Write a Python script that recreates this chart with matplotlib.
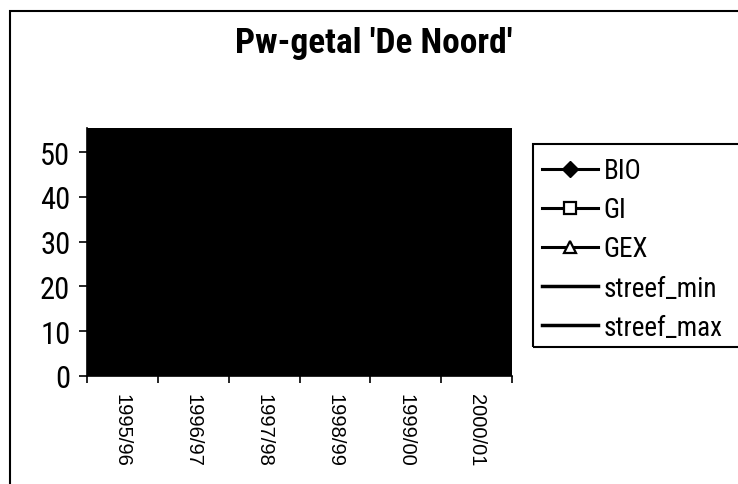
import matplotlib
matplotlib.use("Agg")
import matplotlib.pyplot as plt
from matplotlib.patches import Rectangle
from matplotlib.lines import Line2D

narrow = ['Liberation Sans Narrow', 'DejaVu Sans Condensed', 'Roboto Condensed',
          'Open Sans Condensed', 'Liberation Sans', 'DejaVu Sans']
plt.rcParams['font.family'] = narrow

seasons = ["1995/96", "1996/97", "1997/98", "1998/99", "1999/00", "2000/01"]
bio = [38, 41, 36, 44, 40, 42]
gi = [30, 33, 29, 35, 31, 34]
gex = [22, 25, 21, 27, 24, 26]
streef_min = [20, 20, 20, 20, 20, 20]
streef_max = [50, 50, 50, 50, 50, 50]
y_ticks = [0, 10, 20, 30, 40, 50]

W, H = 738, 485
fig = plt.figure(figsize=(W / 100, H / 100), dpi=100)

def fx(px):
    return px / W

def fy(py):
    return 1 - py / H

ax = fig.add_axes([fx(87), fy(377), fx(512) - fx(87), fy(129) - fy(377)])
ax.set_facecolor("black")

# series are lost in the black plot area, as in the scanned original
x = list(range(len(seasons)))
ax.plot(x, bio, color="black", lw=2, marker="D", ms=6)
ax.plot(x, gi, color="black", lw=2, marker="s", ms=6)
ax.plot(x, gex, color="black", lw=2, marker="^", ms=6)
ax.plot(x, streef_min, color="black", lw=2.5)
ax.plot(x, streef_max, color="black", lw=2.5)

ax.set_xlim(-0.5, len(seasons) - 0.5)
ax.set_ylim(0, 55.4)

# category axis: ticks between categories, labels centred
ax.set_xticks([i - 0.5 for i in range(len(seasons) + 1)])
ax.set_xticklabels([])
ax.set_xticks(x, minor=True)
ax.set_xticklabels(seasons, minor=True, rotation=-90, fontsize=14.5,
                   family=['Liberation Sans', 'DejaVu Sans'], va="top", ha="center")
ax.tick_params(axis="x", which="minor", length=0, pad=12)
ax.tick_params(axis="x", which="major", length=5, width=1.2, direction="out")

ax.set_yticks(y_ticks)
ax.set_yticklabels([str(v) for v in y_ticks], fontsize=22)
ax.tick_params(axis="y", length=6, width=1.2, direction="out", pad=6)

for s in ["top", "right"]:
    ax.spines[s].set_visible(False)
ax.spines["left"].set_linewidth(1.2)
ax.spines["bottom"].set_linewidth(1.2)

fig.text(fx(374), fy(43), "Pw-getal 'De Noord'", ha="center", va="center",
         fontsize=25.5, fontweight="bold")

# outer chart frame (runs off the right and bottom edge)
fig.patches.append(Rectangle((fx(10), -0.2), 1.2, fy(12) + 0.2, transform=fig.transFigure,
                             fill=False, ec="black", lw=1.5, clip_on=False))

# legend frame
fig.patches.append(Rectangle((fx(533), fy(348)), fx(760) - fx(533), fy(145) - fy(348),
                             transform=fig.transFigure, fill=False, ec="black", lw=1.5,
                             clip_on=False))

handles = [
    Line2D([], [], color="black", lw=2.2, marker="D", ms=8),
    Line2D([], [], color="black", lw=2.2, marker="s", ms=8.5, mfc="white", mew=1.6),
    Line2D([], [], color="black", lw=2.2, marker="^", ms=9, mfc="white", mew=1.6),
    Line2D([], [], color="black", lw=2.5),
    Line2D([], [], color="black", lw=2.5),
]
labels = ["BIO", "GI", "GEX", "streef_min", "streef_max"]
fig.legend(handles, labels, loc="upper left", bbox_to_anchor=(fx(542), fy(158)),
           frameon=False, fontsize=19.5, handlelength=2.05, handletextpad=0.23,
           labelspacing=0.45, borderpad=0, borderaxespad=0)

fig.savefig("out.png", dpi=100)
